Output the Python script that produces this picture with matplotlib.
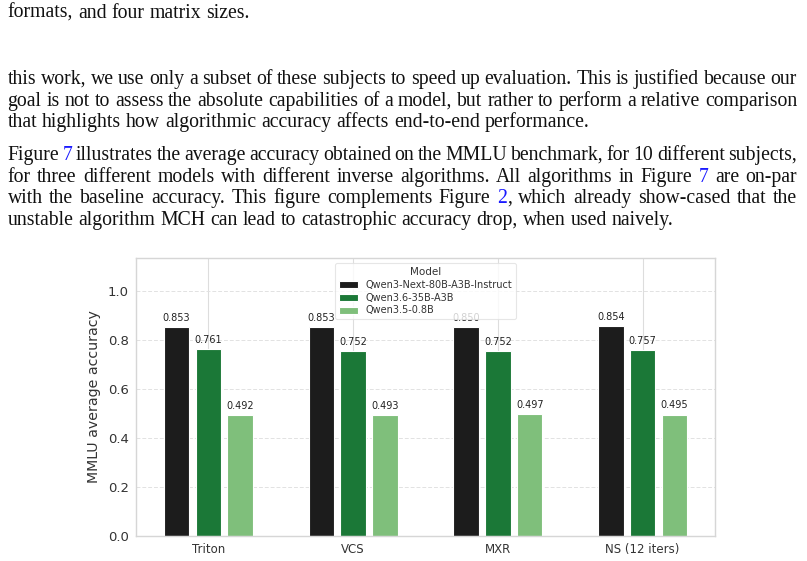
import matplotlib
matplotlib.use("Agg")
import matplotlib.pyplot as plt
import numpy as np

# ---------------- data ----------------
algorithms = ["Triton", "VCS", "MXR", "NS (12 iters)"]
models = ["Qwen3-Next-80B-A3B-Instruct", "Qwen3.6-35B-A3B", "Qwen3.5-0.8B"]
acc_next80b = [0.853, 0.853, 0.850, 0.854]
acc_36_35b = [0.761, 0.752, 0.752, 0.757]
acc_35_08b = [0.492, 0.493, 0.497, 0.495]
series = [acc_next80b, acc_36_35b, acc_35_08b]
colors = ["#1c1c1c", "#1b7837", "#7fbf7b"]
yticks = [0.0, 0.2, 0.4, 0.6, 0.8, 1.0]

# surrounding paper text: list of paragraphs, each a list of lines; {x} marks blue refs
paragraphs = [
    ["formats, and four matrix sizes."],
    ["this work, we use only a subset of these subjects to speed up evaluation. This is justified because our",
     "goal is not to assess the absolute capabilities of a model, but rather to perform a relative comparison",
     "that highlights how algorithmic accuracy affects end-to-end performance."],
    ["Figure {7} illustrates the average accuracy obtained on the MMLU benchmark, for 10 different subjects,",
     "for three different models with different inverse algorithms.  All algorithms in Figure {7} are on-par",
     "with the baseline accuracy.  This figure complements Figure {2}, which already show-cased that the",
     "unstable algorithm MCH can lead to catastrophic accuracy drop, when used naively."],
]
baselines = [[18], [84, 106, 127], [160, 182, 203, 225]]

# ---------------- figure ----------------
W, H = 807, 561
fig = plt.figure(figsize=(W / 100, H / 100), dpi=100)
renderer = fig.canvas.get_renderer()

serif = "Liberation Serif"
text_color = "#111111"
ref_color = "#1a1aff"
left_px, right_px = 7.5, 797


def measure(s, size):
    t = fig.text(0, 0, s, fontsize=size, family=serif)
    w = t.get_window_extent(renderer).width
    t.remove()
    return w


def parse_word(word):
    segs = []
    buf = ""
    i = 0
    while i < len(word):
        c = word[i]
        if c == "{":
            if buf:
                segs.append((buf, text_color))
                buf = ""
            j = word.index("}", i)
            segs.append((word[i + 1:j], ref_color))
            i = j + 1
            continue
        buf += c
        i += 1
    if buf:
        segs.append((buf, text_color))
    return segs


# font size fit to the last line width
ref_line = paragraphs[2][3]
w10 = measure(ref_line, 10)
fsize = 10 * (672 - left_px) / w10
space_w = measure("a a", fsize) - measure("aa", fsize)

for p_lines, p_base in zip(paragraphs, baselines):
    for li, (line, yb) in enumerate(zip(p_lines, p_base)):
        words = line.split()
        parsed = [parse_word(w) for w in words]
        widths = [sum(measure(s, fsize) for s, _ in segs) for segs in parsed]
        last = li == len(p_lines) - 1
        if last or len(words) < 2:
            gap = space_w
        else:
            gap = (right_px - left_px - sum(widths)) / (len(words) - 1)
        x = left_px
        for segs, wd in zip(parsed, widths):
            xx = x
            for s, col in segs:
                fig.text(xx / W, 1 - yb / H, s, fontsize=fsize, family=serif,
                         color=col, va="baseline", ha="left")
                xx += measure(s, fsize)
            x += wd + gap

# ---------------- chart ----------------
ax_l, ax_r, ax_t, ax_b = 136, 715, 258, 536
ax = fig.add_axes([ax_l / W, 1 - ax_b / H, (ax_r - ax_l) / W, (ax_b - ax_t) / H])

x = np.arange(len(algorithms))
slot = 0.22
bar_w = 0.176
for i, (vals, col, name) in enumerate(zip(series, colors, models)):
    bars = ax.bar(x + (i - 1) * slot, vals, width=bar_w, color=col, label=name,
                  edgecolor="white", linewidth=0.8, zorder=2)
    ax.bar_label(bars, labels=[f"{v:.3f}" for v in vals], padding=3,
                 fontsize=7, color="#222222", zorder=3)

ax.set_xlim(-0.5, len(algorithms) - 0.5)
ax.set_ylim(0, 1.133)
ax.set_yticks(yticks)
ax.set_yticklabels([f"{v:.1f}" for v in yticks], fontsize=9.5, color="#333333")
ax.set_xticks(x)
ax.set_xticklabels(algorithms, fontsize=8.5, color="#333333")
ax.tick_params(length=0, pad=5)
ax.set_ylabel("MMLU average accuracy", fontsize=10.2, color="#333333", labelpad=5)

ax.set_axisbelow(True)
ax.yaxis.grid(True, color="#e2e2e2", linestyle=(0, (4, 2)), linewidth=0.7)
ax.xaxis.grid(True, color="#dddddd", linestyle="-", linewidth=0.8)
for sp in ax.spines.values():
    sp.set_color("#d6d6d6")
    sp.set_linewidth(1.0)

leg = ax.legend(title="Model", loc="upper center", fontsize=7, title_fontsize=7.5,
                frameon=True, framealpha=0.8, edgecolor="#e0e0e0",
                borderpad=0.4, labelspacing=0.3, handlelength=2.0, handleheight=0.7)
leg.get_frame().set_linewidth(0.8)
for t in leg.get_texts():
    t.set_color("#333333")
leg.get_title().set_color("#333333")

fig.savefig("out.png", dpi=100)
